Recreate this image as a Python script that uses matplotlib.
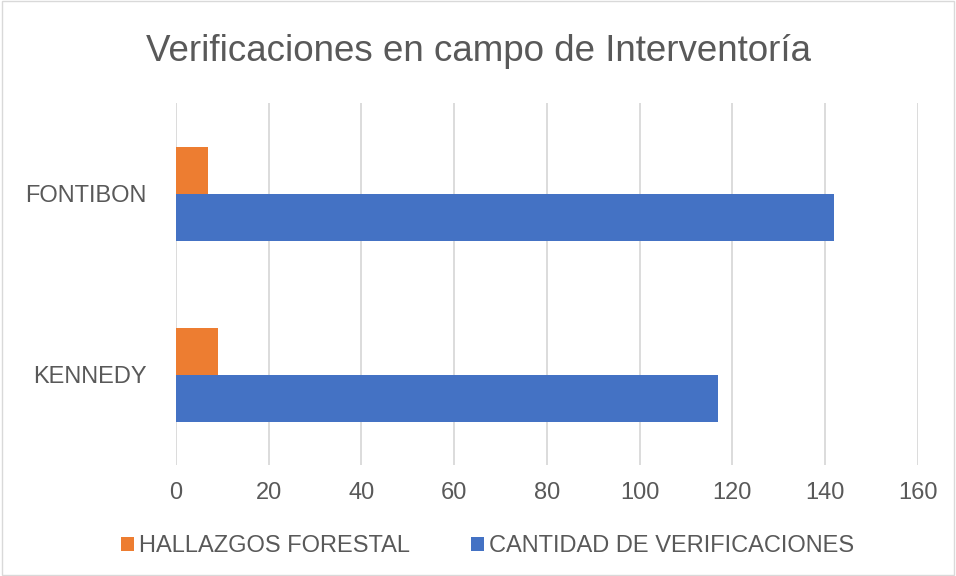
import numpy as np
import matplotlib.pyplot as plt
from matplotlib.patches import Rectangle

plt.rcParams['font.family'] = ['Liberation Sans', 'DejaVu Sans']

categories = ['KENNEDY', 'FONTIBON']
hallazgos = [9, 7]
verificaciones = [117, 142]
xticks = [0, 20, 40, 60, 80, 100, 120, 140, 160]

txt = '#595959'
fig = plt.figure(figsize=(9.56, 5.76), dpi=100)
ax = fig.add_axes([0.184, 0.192, 0.776, 0.6285])

y = np.arange(len(categories))
h = 0.26
ax.barh(y + h / 2, hallazgos, height=h, color='#ED7D31', label='HALLAZGOS FORESTAL', zorder=3)
ax.barh(y - h / 2, verificaciones, height=h, color='#4472C4', label='CANTIDAD DE VERIFICACIONES', zorder=3)

ax.set_xlim(0, 160)
ax.set_ylim(-0.5, 1.5)
ax.set_xticks(xticks)
ax.set_yticks(y)
ax.set_yticklabels(categories)
ax.grid(axis='x', color='#d9d9d9', linewidth=1.3, zorder=0)
for s in ax.spines.values():
    s.set_visible(False)
ax.tick_params(length=0, labelsize=17, labelcolor=txt)
ax.tick_params(axis='x', pad=12)
ax.tick_params(axis='y', pad=21)

fig.text(0.5, 0.911, 'Verificaciones en campo de Interventoría', fontsize=26.5,
         color=txt, ha='center', va='center')
fig.legend(loc='center', bbox_to_anchor=(0.51, 0.052), ncol=2, frameon=False,
           fontsize=17, labelcolor=txt, handlelength=0.55, handleheight=0.55,
           handletextpad=0.2, columnspacing=2.6)

fig.patches.append(Rectangle((0.002, 0.002), 0.996, 0.996, transform=fig.transFigure,
                             fill=False, edgecolor='#d9d9d9', linewidth=1))

plt.savefig('out.png', dpi=100)
